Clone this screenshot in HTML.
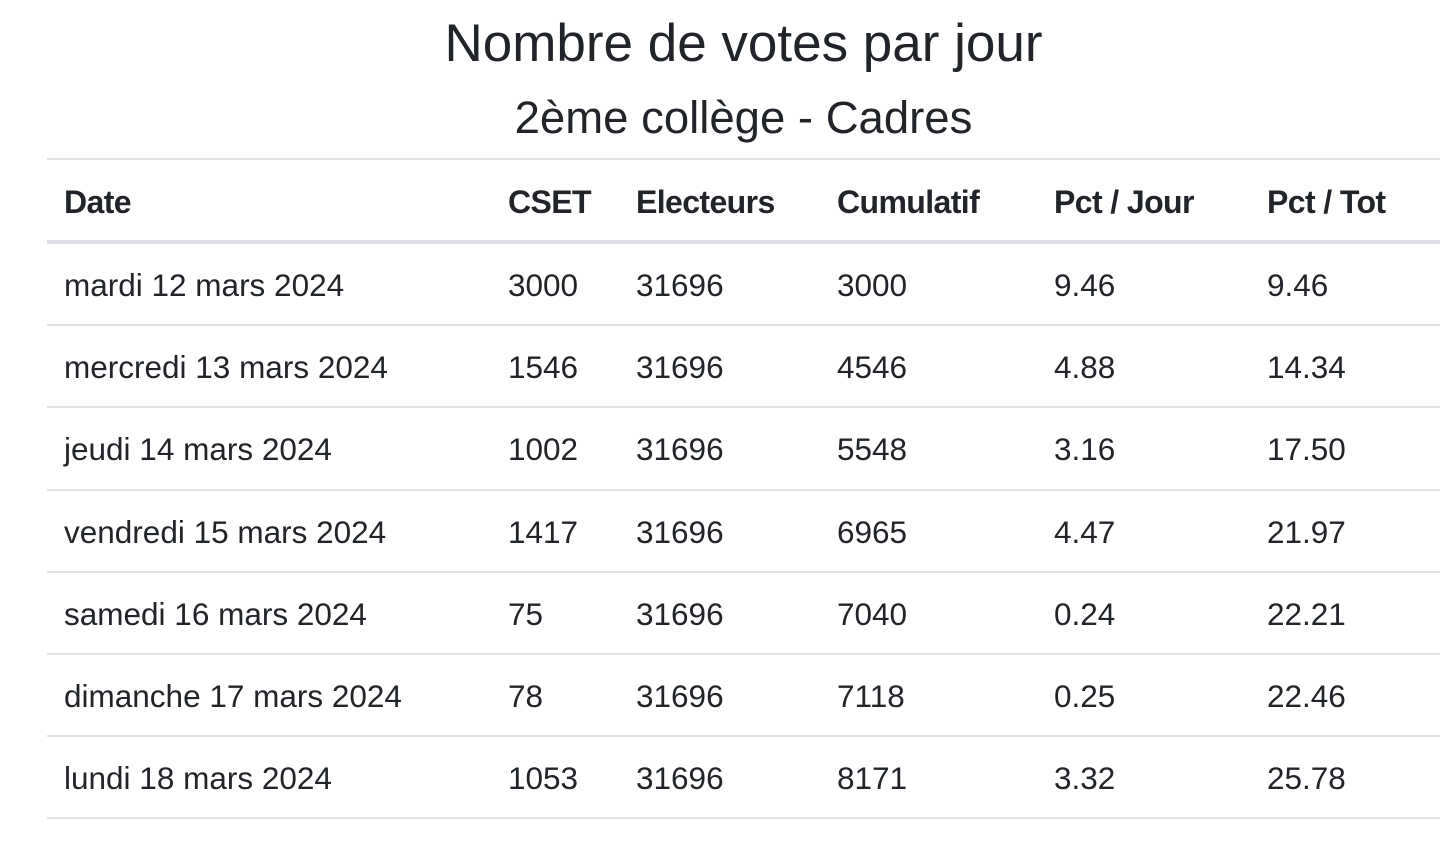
<!DOCTYPE html>
<html>
<head>
<meta charset="utf-8">
<style>
  html, body { margin:0; padding:0; background:#fff; }
  body { width:1446px; height:846px; position:relative; overflow:hidden;
         font-family:"Liberation Sans", Arial, sans-serif; color:#212529; }
  .t { position:absolute; white-space:nowrap; line-height:1; }
  .title { font-size:53px; left:47px; width:1393px; text-align:center; top:17px; }
  .sub { font-size:45.5px; left:47px; width:1393px; text-align:center; top:94.5px; }
  .ln { position:absolute; left:47px; width:1393px; background:#dee2e6; }
  .c { position:absolute; font-size:31.5px; line-height:1; white-space:nowrap; margin-top:0.4px; }
  .h { font-weight:bold; font-size:32px; letter-spacing:-0.6px; margin-top:0; }
</style>
</head>
<body>
<div class="t title">Nombre de votes par jour</div>
<div class="t sub">2ème collège - Cadres</div>

<div class="ln" style="top:158px;height:2px;"></div>
<div class="ln" style="top:240px;height:4px;"></div>
<div class="ln" style="top:324px;height:2px;"></div>
<div class="ln" style="top:406px;height:2px;"></div>
<div class="ln" style="top:488.5px;height:2px;"></div>
<div class="ln" style="top:571px;height:2px;"></div>
<div class="ln" style="top:653px;height:2px;"></div>
<div class="ln" style="top:735px;height:2px;"></div>
<div class="ln" style="top:817px;height:2px;"></div>

<!-- header -->
<div class="c h" style="top:186.2px;left:64px;">Date</div>
<div class="c h" style="top:186.2px;left:508px;">CSET</div>
<div class="c h" style="top:186.2px;left:636px;">Electeurs</div>
<div class="c h" style="top:186.2px;left:837px;">Cumulatif</div>
<div class="c h" style="top:186.2px;left:1054px;">Pct / Jour</div>
<div class="c h" style="top:186.2px;left:1267px;">Pct / Tot</div>

<!-- row 1 -->
<div class="c" style="top:269.6px;left:64px;">mardi 12 mars 2024</div>
<div class="c" style="top:269.6px;left:508px;">3000</div>
<div class="c" style="top:269.6px;left:636px;">31696</div>
<div class="c" style="top:269.6px;left:837px;">3000</div>
<div class="c" style="top:269.6px;left:1054px;">9.46</div>
<div class="c" style="top:269.6px;left:1267px;">9.46</div>

<!-- row 2 -->
<div class="c" style="top:351.8px;left:64px;">mercredi 13 mars 2024</div>
<div class="c" style="top:351.8px;left:508px;">1546</div>
<div class="c" style="top:351.8px;left:636px;">31696</div>
<div class="c" style="top:351.8px;left:837px;">4546</div>
<div class="c" style="top:351.8px;left:1054px;">4.88</div>
<div class="c" style="top:351.8px;left:1267px;">14.34</div>

<!-- row 3 -->
<div class="c" style="top:434px;left:64px;">jeudi 14 mars 2024</div>
<div class="c" style="top:434px;left:508px;">1002</div>
<div class="c" style="top:434px;left:636px;">31696</div>
<div class="c" style="top:434px;left:837px;">5548</div>
<div class="c" style="top:434px;left:1054px;">3.16</div>
<div class="c" style="top:434px;left:1267px;">17.50</div>

<!-- row 4 -->
<div class="c" style="top:516.2px;left:64px;">vendredi 15 mars 2024</div>
<div class="c" style="top:516.2px;left:508px;">1417</div>
<div class="c" style="top:516.2px;left:636px;">31696</div>
<div class="c" style="top:516.2px;left:837px;">6965</div>
<div class="c" style="top:516.2px;left:1054px;">4.47</div>
<div class="c" style="top:516.2px;left:1267px;">21.97</div>

<!-- row 5 -->
<div class="c" style="top:598.4px;left:64px;">samedi 16 mars 2024</div>
<div class="c" style="top:598.4px;left:508px;">75</div>
<div class="c" style="top:598.4px;left:636px;">31696</div>
<div class="c" style="top:598.4px;left:837px;">7040</div>
<div class="c" style="top:598.4px;left:1054px;">0.24</div>
<div class="c" style="top:598.4px;left:1267px;">22.21</div>

<!-- row 6 -->
<div class="c" style="top:680.6px;left:64px;">dimanche 17 mars 2024</div>
<div class="c" style="top:680.6px;left:508px;">78</div>
<div class="c" style="top:680.6px;left:636px;">31696</div>
<div class="c" style="top:680.6px;left:837px;">7118</div>
<div class="c" style="top:680.6px;left:1054px;">0.25</div>
<div class="c" style="top:680.6px;left:1267px;">22.46</div>

<!-- row 7 -->
<div class="c" style="top:762.8px;left:64px;">lundi 18 mars 2024</div>
<div class="c" style="top:762.8px;left:508px;">1053</div>
<div class="c" style="top:762.8px;left:636px;">31696</div>
<div class="c" style="top:762.8px;left:837px;">8171</div>
<div class="c" style="top:762.8px;left:1054px;">3.32</div>
<div class="c" style="top:762.8px;left:1267px;">25.78</div>
</body>
</html>
